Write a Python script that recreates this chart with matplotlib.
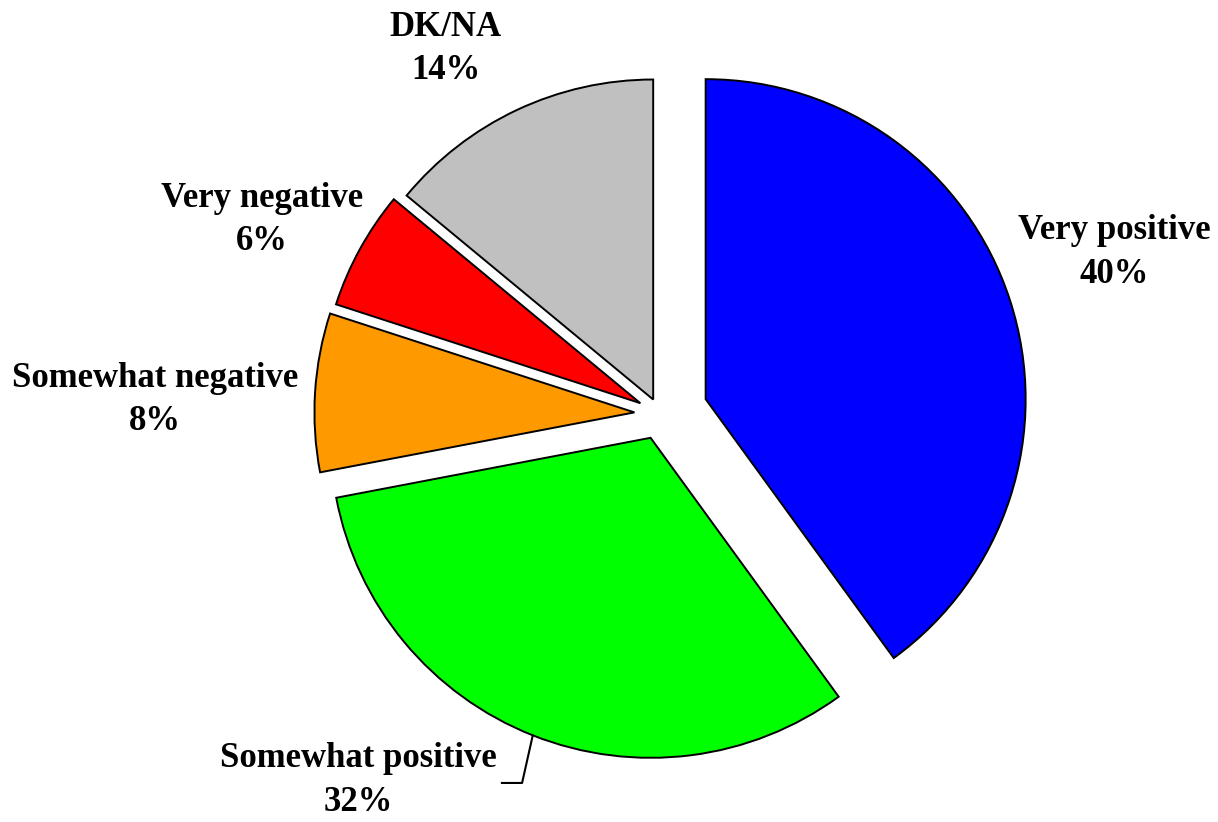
import numpy as np
import matplotlib
matplotlib.use('Agg')
import matplotlib.pyplot as plt

# data
categories = ["Very positive", "Somewhat positive", "Somewhat negative", "Very negative", "DK/NA"]
shares = [40, 32, 8, 6, 14]

colors = ['#0000FF', '#00FF00', '#FF9900', '#FF0000', '#C0C0C0']
explode = [0.15, 0.08, 0.08, 0.07, 0.05]
# label centres (data units, pie radius = 1)
label_pos = [(1.42, 0.505), (-0.944, -1.145), (-1.578, 0.044), (-1.244, 0.607), (-0.669, 1.14)]

W, H, R = 1218, 822, 320.0
cx, cy = 660, 414

fig = plt.figure(figsize=(W / 100, H / 100), dpi=100)
ax = fig.add_axes([0, 0, 1, 1])
wedges, _ = ax.pie(shares, colors=colors, explode=explode, startangle=90,
                   counterclock=False, radius=1.0,
                   wedgeprops=dict(edgecolor='black', linewidth=1.4))
ax.set_xlim(-cx / R, (W - cx) / R)
ax.set_ylim(-(H - cy) / R, cy / R)
ax.set_aspect('equal')
ax.axis('off')

font = dict(family=['Liberation Serif', 'DejaVu Serif'], fontsize=25,
            fontweight='bold', ha='center', va='center', linespacing=1.42)
for name, val, (x, y) in zip(categories, shares, label_pos):
    ax.text(x, y, f"{name}\n{val}%", **font)

# leader line for "Somewhat positive"
w = wedges[1]
mid = np.deg2rad((w.theta1 + w.theta2) / 2)
x0 = w.center[0] + np.cos(mid)
y0 = w.center[1] + np.sin(mid)
ax.plot([x0, -0.431, -0.494], [y0, -1.153, -1.153], color='black', lw=1.5)

fig.savefig("out.png", dpi=100)
